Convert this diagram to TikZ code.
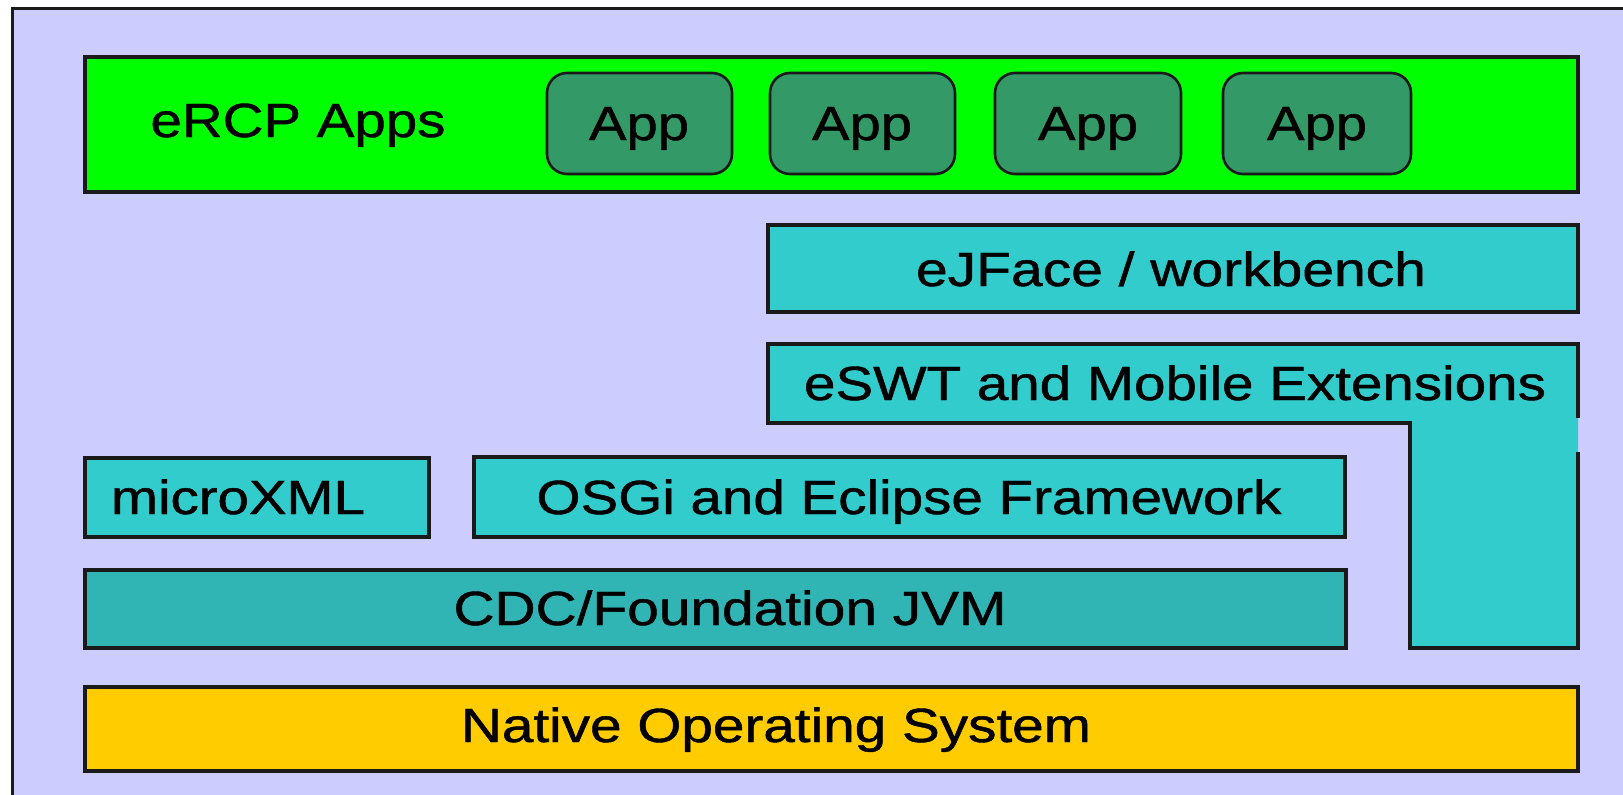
\documentclass[tikz,border=0pt]{standalone}
\usepackage{fontspec}
\setmainfont[FakeBold=1.0]{Liberation Sans}
\newfontfamily\heavy[FakeBold=0.9]{Liberation Sans}
\usepackage{graphicx}
\definecolor{lav}{HTML}{CCCCFF}
\definecolor{grn}{HTML}{00FF00}
\definecolor{appc}{HTML}{339966}
\definecolor{teal1}{HTML}{33CCCC}
\definecolor{teal2}{HTML}{30B4B4}
\definecolor{gold}{HTML}{FFCC00}
\definecolor{edge}{HTML}{1A1A1A}
\newcommand\fitw[2]{\resizebox{#1}{\height}{#2}}
\begin{document}
\begin{tikzpicture}[x=1pt,y=-1pt,
  blk/.style={draw=edge,line width=3.2pt},
  appbox/.style={blk,fill=appc,rounded corners=20pt,line width=2.6pt},
  txt/.style={inner sep=0pt,anchor=base,font=\heavy\fontsize{48}{50}\selectfont}]
\useasboundingbox (0,0) rectangle (1623,795);
\fill[white] (0,0) rectangle (1623,795);
\fill[lav] (12,8) rectangle (1623,795);
\draw[edge,line width=3pt] (12,795) -- (12,8) -- (1623,8);
% boxes
\draw[blk,fill=grn] (85,57) rectangle (1578,192);
\node[txt] (tercp) at (298,137) {\fitw{295pt}{eRCP Apps}};
\draw[appbox] (547,73) rectangle (732,174);
\draw[appbox] (770,73) rectangle (955,174);
\draw[appbox] (995,73) rectangle (1181,174);
\draw[appbox] (1223,73) rectangle (1411,174);
\node[txt] (tapp1) at (639,140) {\fitw{100pt}{App}};
\node[txt] (tapp2) at (862,140) {\fitw{100pt}{App}};
\node[txt] (tapp3) at (1088,140) {\fitw{100pt}{App}};
\node[txt] (tapp4) at (1317,140) {\fitw{100pt}{App}};
\draw[blk,fill=teal1] (768,225) rectangle (1578,312);
\node[txt] (tejf) at (1171,286) {\fitw{510pt}{eJFace / workbench}};
% L shape
\fill[teal1] (768,344) -- (1578,344) -- (1578,648) -- (1410,648) -- (1410,423) -- (768,423) -- cycle;
\draw[edge,line width=3.2pt,line join=miter] (1578,418) -- (1578,344) -- (768,344) -- (768,423) -- (1410,423) -- (1410,648) -- (1578,648) -- (1578,452);
\node[txt] (teswt) at (1175,400) {\fitw{742pt}{eSWT and Mobile Extensions}};
\draw[blk,fill=teal1] (85,458) rectangle (429,537);
\node[txt] (tmx) at (238,514) {\fitw{254pt}{microXML}};
\draw[blk,fill=teal1] (474,457) rectangle (1345,537);
\node[txt] (tosgi) at (909,514) {\fitw{745pt}{OSGi and Eclipse Framework}};
\draw[blk,fill=teal2] (85,570) rectangle (1346,648);
\node[txt] (tcdc) at (730,625) {\fitw{553pt}{CDC/Foundation JVM}};
\draw[blk,fill=gold] (85,687) rectangle (1578,771);
\node[txt] (tnat) at (776,742) {\fitw{630pt}{Native Operating System}};
\end{tikzpicture}
\end{document}
